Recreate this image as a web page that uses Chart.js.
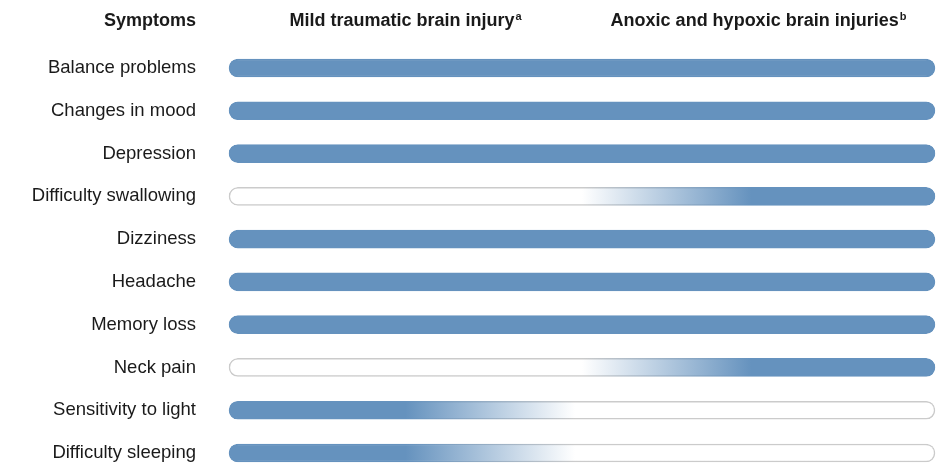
<!DOCTYPE html>
<html>
<head>
<meta charset="utf-8">
<script src="https://cdn.jsdelivr.net/npm/chart.js@4/dist/chart.umd.min.js"></script>
<style>
  html, body { margin: 0; padding: 0; background: #ffffff; }
  #wrap { width: 942px; height: 466px; position: relative; }
</style>
</head>
<body>
<div id="wrap"><canvas id="c"></canvas></div>
<script>
// ---- data ----
const symptoms = [
  'Balance problems', 'Changes in mood', 'Depression', 'Difficulty swallowing',
  'Dizziness', 'Headache', 'Memory loss', 'Neck pain',
  'Sensitivity to light', 'Difficulty sleeping'
];
// 1 = symptom associated with the injury type
const mildTBI = [1, 1, 1, 0, 1, 1, 1, 0, 1, 1];
const anoxic  = [1, 1, 1, 1, 1, 1, 1, 1, 0, 0];
const headerLabels = ['Symptoms', 'Mild traumatic brain injury', 'Anoxic and hypoxic brain injuries'];
const headerSup = ['', 'a', 'b'];
const headerCenters = [null, 25, 75];   // x-scale values of column centres
const barRange = [0, 100];              // each bar spans the full scale
// fade zones (x-scale values)
const fadeMild = [25, 49];
const fadeAnoxic = [50, 74];

const BLUE = '#6592be';
const WHITE = '#ffffff';
const GRAY = '#cbcbcb';
const FONT = '"Liberation Sans", Arial, Helvetica, sans-serif';

function makeGradient(ctx, chart, idx, forBorder) {
  const area = chart.chartArea;
  const xs = chart.scales.x;
  if (!area || !xs) return forBorder ? GRAY : BLUE;
  const l = xs.getPixelForValue(barRange[0]);
  const r = xs.getPixelForValue(barRange[1]);
  const m = mildTBI[idx], a = anoxic[idx];
  const on = BLUE;
  const off = forBorder ? GRAY : WHITE;
  if (m && a) return on;
  if (!m && !a) return off;
  const g = ctx.createLinearGradient(l, 0, r, 0);
  const f = v => Math.min(1, Math.max(0, (xs.getPixelForValue(v) - l) / (r - l)));
  if (m) {
    g.addColorStop(0, on);
    g.addColorStop(f(fadeMild[0]), on);
    g.addColorStop(f(fadeMild[1]), off);
    g.addColorStop(1, off);
  } else {
    g.addColorStop(0, off);
    g.addColorStop(f(fadeAnoxic[0]), off);
    g.addColorStop(f(fadeAnoxic[1]), on);
    g.addColorStop(1, on);
  }
  return g;
}

const headerPlugin = {
  id: 'headers',
  afterDraw(chart) {
    const ctx = chart.ctx;
    const xs = chart.scales.x;
    const baseY = 26;
    ctx.save();
    ctx.fillStyle = '#1a1a1a';
    ctx.textBaseline = 'alphabetic';
    headerLabels.forEach((txt, i) => {
      ctx.font = 'bold 18px ' + FONT;
      const w = ctx.measureText(txt).width;
      ctx.font = 'bold 11px ' + FONT;
      const sw = headerSup[i] ? ctx.measureText(headerSup[i]).width + 1 : 0;
      let x0;
      if (headerCenters[i] === null) {
        x0 = 196 - w;
      } else {
        x0 = xs.getPixelForValue(headerCenters[i]) - (w + sw) / 2;
      }
      ctx.font = 'bold 18px ' + FONT;
      ctx.textAlign = 'left';
      ctx.fillText(txt, x0, baseY);
      if (headerSup[i]) {
        ctx.font = 'bold 11px ' + FONT;
        ctx.fillText(headerSup[i], x0 + w + 1, baseY - 6);
      }
    });
    ctx.restore();
  }
};

new Chart(document.getElementById('c'), {
  type: 'bar',
  data: {
    labels: symptoms,
    datasets: [{
      data: symptoms.map(() => barRange.slice()),
      backgroundColor: c => makeGradient(c.chart.ctx, c.chart, c.dataIndex, false),
      borderColor: c => makeGradient(c.chart.ctx, c.chart, c.dataIndex, true),
      borderWidth: 1.5,
      borderSkipped: false,
      borderRadius: 9,
      barThickness: 18,
      clip: false
    }]
  },
  options: {
    indexAxis: 'y',
    responsive: true,
    maintainAspectRatio: false,
    animation: false,
    events: [],
    layout: { padding: { top: 68, bottom: 13, left: 0, right: 7 } },
    plugins: { legend: { display: false }, tooltip: { enabled: false } },
    scales: {
      x: { display: false, min: 0, max: 100 },
      y: {
        offset: false,
        grid: { display: false, drawTicks: false },
        border: { display: false },
        ticks: {
          padding: 33,
          color: '#1a1a1a',
          font: { family: FONT, size: 18.5 }
        },
        afterFit(scale) {
          scale.width = 229;
          scale.paddingTop = 0;
          scale.paddingBottom = 0;
        }
      }
    }
  },
  plugins: [headerPlugin]
});
</script>
</body>
</html>
